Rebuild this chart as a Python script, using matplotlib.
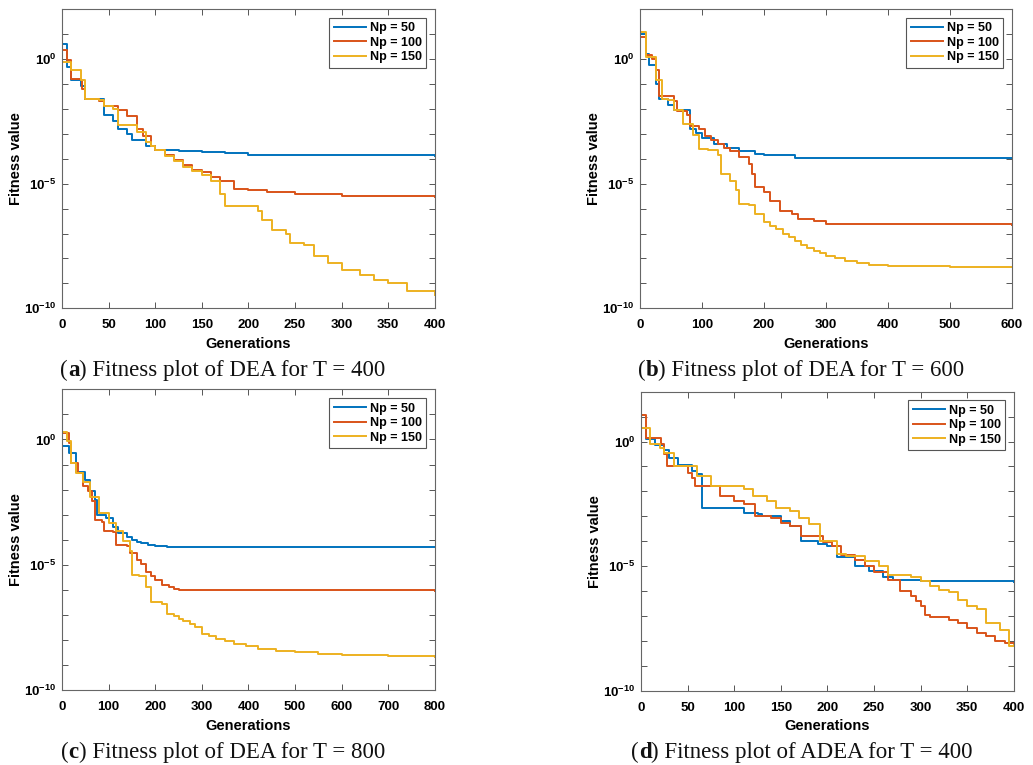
import matplotlib
matplotlib.use("Agg")
import matplotlib.pyplot as plt
import numpy as np
from matplotlib.ticker import FixedLocator, FuncFormatter, NullLocator
from matplotlib.offsetbox import TextArea, HPacker, AnchoredOffsetbox

# ---- data: generation index and log10(best fitness) ----
# (a) DEA, T = 400
A_X_50 = [0, 5, 10, 20, 25, 40, 45, 55, 60, 70, 75, 90, 100, 125, 150, 175, 200, 250, 400]
A_Y_50 = [0.6, -0.3, -0.85, -1.1, -1.6, -1.6, -2.25, -2.5, -2.8, -3.0, -3.25, -3.5,
          -3.65, -3.69, -3.72, -3.78, -3.83, -3.87, -3.88]
A_X_100 = [0, 5, 10, 20, 22, 25, 40, 45, 60, 70, 80, 87, 95, 100, 110, 120, 130, 140, 150,
           160, 170, 185, 200, 220, 250, 300, 400]
A_Y_100 = [0.35, -0.05, -0.8, -0.85, -1.2, -1.6, -1.7, -1.9, -2.05, -2.3, -2.8, -3.1,
           -3.5, -3.65, -3.85, -4.05, -4.25, -4.45, -4.55, -4.72, -4.9, -5.2, -5.25, -5.35,
           -5.41, -5.48, -5.55]
A_X_150 = [0, 10, 20, 25, 40, 45, 55, 60, 80, 90, 95, 100, 110, 120, 130, 140, 150, 160,
           170, 175, 200, 210, 215, 225, 240, 245, 260, 270, 285, 300, 320, 335, 350, 370, 400]
A_Y_150 = [-0.12, -0.45, -0.85, -1.6, -1.65, -1.9, -2.0, -2.65, -2.92, -3.32, -3.5, -3.65,
           -3.9, -4.1, -4.35, -4.5, -4.65, -4.9, -5.4, -5.9, -5.9, -6.1, -6.45, -6.85,
           -7.0, -7.4, -7.45, -7.9, -8.2, -8.45, -8.65, -8.85, -9.0, -9.3, -9.45]

# (b) DEA, T = 600
B_X_50 = [0, 10, 15, 25, 30, 45, 55, 80, 90, 100, 120, 140, 160, 185, 200, 250, 300, 600]
B_Y_50 = [1.0, 0.2, -0.25, -1.0, -1.6, -1.85, -2.05, -2.8, -2.95, -3.15, -3.4, -3.55,
          -3.7, -3.8, -3.87, -3.96, -3.97, -3.98]
B_X_100 = [0, 10, 20, 25, 30, 45, 55, 60, 75, 80, 95, 105, 115, 125, 135, 145, 160, 175,
           180, 185, 200, 210, 225, 245, 255, 280, 300, 400, 600]
B_Y_100 = [0.9, 0.15, 0.0, -0.45, -1.5, -1.5, -1.7, -2.1, -2.25, -2.7, -2.8, -3.1, -3.25,
           -3.4, -3.55, -3.7, -3.95, -4.2, -4.6, -5.15, -5.35, -5.7, -6.1, -6.2, -6.4,
           -6.5, -6.6, -6.63, -6.65]
B_X_150 = [0, 10, 25, 35, 45, 55, 70, 85, 95, 110, 125, 130, 145, 155, 160, 175, 185,
           200, 210, 220, 230, 240, 250, 260, 270, 280, 290, 300, 315, 330, 350, 370, 400,
           500, 600]
B_Y_150 = [1.1, 0.1, -0.85, -1.6, -1.65, -2.05, -2.6, -3.05, -3.6, -3.65, -3.85, -4.6,
           -4.9, -5.25, -5.8, -5.85, -6.2, -6.55, -6.7, -6.8, -7.0, -7.15, -7.3, -7.45,
           -7.6, -7.7, -7.8, -7.9, -8.0, -8.1, -8.2, -8.25, -8.3, -8.33, -8.35]

# (c) DEA, T = 800
C_X_50 = [0, 15, 25, 30, 50, 60, 70, 75, 95, 110, 120, 140, 150, 160, 170, 185, 200, 225,
          250, 800]
C_Y_50 = [-0.25, -0.55, -0.55, -1.3, -1.6, -2.05, -2.4, -3.0, -3.15, -3.5, -3.75, -3.9,
          -4.0, -4.08, -4.15, -4.22, -4.27, -4.29, -4.3, -4.3]
C_X_100 = [0, 15, 20, 35, 45, 55, 65, 70, 85, 90, 110, 115, 140, 145, 160, 170, 180, 190,
           200, 215, 230, 240, 250, 300, 800]
C_Y_100 = [0.25, -0.15, -0.95, -1.35, -1.85, -2.05, -2.45, -3.2, -3.3, -3.65, -3.7, -4.2,
           -4.25, -4.55, -4.8, -4.95, -5.3, -5.45, -5.6, -5.8, -5.9, -5.97, -6.0, -6.02,
           -6.05]
C_X_150 = [0, 10, 20, 30, 45, 60, 80, 100, 115, 130, 145, 150, 165, 180, 190, 215, 225,
           240, 250, 260, 275, 285, 300, 315, 330, 350, 370, 395, 420, 460, 500, 550, 600,
           700, 800]
C_Y_150 = [0.3, -0.05, -0.95, -1.35, -1.7, -2.3, -2.95, -3.35, -3.65, -4.05, -4.45, -5.4,
           -5.45, -5.9, -6.5, -6.55, -6.95, -7.05, -7.15, -7.25, -7.35, -7.5, -7.75, -7.85,
           -7.95, -8.05, -8.15, -8.25, -8.35, -8.43, -8.5, -8.55, -8.6, -8.65, -8.7]

# (d) ADEA, T = 400
D_X_50 = [0, 5, 15, 25, 30, 40, 55, 60, 65, 100, 110, 125, 130, 150, 160, 172, 190, 200,
          210, 230, 245, 260, 270, 300, 400]
D_Y_50 = [0.55, 0.1, -0.15, -0.35, -0.65, -0.95, -1.2, -1.3, -2.65, -2.65, -2.85, -2.9,
          -3.0, -3.2, -3.4, -4.0, -4.1, -4.2, -4.65, -5.0, -5.2, -5.45, -5.55, -5.6, -5.65]
D_X_100 = [0, 5, 22, 25, 28, 50, 55, 58, 85, 100, 110, 122, 140, 150, 160, 172, 195, 205,
           215, 230, 240, 250, 265, 278, 290, 295, 300, 305, 310, 330, 340, 350, 360, 370,
           380, 390, 400]
D_Y_100 = [1.05, 0.15, -0.1, -0.5, -1.0, -1.25, -1.45, -1.8, -2.2, -2.4, -2.5, -3.0,
           -3.05, -3.25, -3.4, -3.8, -4.05, -4.2, -4.55, -4.75, -5.0, -5.25, -5.55, -6.0,
           -6.2, -6.4, -6.6, -6.95, -7.05, -7.15, -7.3, -7.5, -7.7, -7.8, -8.0, -8.1, -8.1]
D_X_150 = [0, 10, 20, 25, 35, 55, 60, 75, 100, 110, 120, 135, 145, 160, 170, 180, 192,
           210, 220, 240, 255, 265, 290, 300, 310, 320, 330, 340, 350, 360, 370, 385, 395,
           400]
D_Y_150 = [0.55, -0.1, -0.25, -0.45, -1.0, -1.0, -1.4, -1.8, -1.8, -1.9, -2.2, -2.4,
           -2.65, -2.8, -3.05, -3.3, -4.0, -4.5, -4.6, -4.8, -5.0, -5.35, -5.45, -5.6,
           -5.8, -5.95, -6.05, -6.35, -6.6, -6.7, -7.3, -7.55, -8.2, -8.15]

LABELS = ["Np = 50", "Np = 100", "Np = 150"]
COLORS = ["#0072BD", "#D95319", "#EDB120"]

PANELS = [
    dict(series=[(A_X_50, A_Y_50), (A_X_100, A_Y_100), (A_X_150, A_Y_150)],
         xmax=400, xstep=50, letter="a", text=") Fitness plot of DEA for T = 400",
         rect=[0.060, 0.597, 0.361, 0.391], cap=(223, 370)),
    dict(series=[(B_X_50, B_Y_50), (B_X_100, B_Y_100), (B_X_150, B_Y_150)],
         xmax=600, xstep=100, letter="b", text=") Fitness plot of DEA for T = 600",
         rect=[0.6196, 0.597, 0.360, 0.391], cap=(801, 370)),
    dict(series=[(C_X_50, C_Y_50), (C_X_100, C_Y_100), (C_X_150, C_Y_150)],
         xmax=800, xstep=100, letter="c", text=") Fitness plot of DEA for T = 800",
         rect=[0.060, 0.098, 0.361, 0.393], cap=(223, 752)),
    dict(series=[(D_X_50, D_Y_50), (D_X_100, D_Y_100), (D_X_150, D_Y_150)],
         xmax=400, xstep=50, letter="d", text=") Fitness plot of ADEA for T = 400",
         rect=[0.6205, 0.097, 0.361, 0.391], cap=(802, 752)),
]

plt.rcParams["font.family"] = ["Liberation Sans", "DejaVu Sans"]
plt.rcParams["mathtext.fontset"] = "custom"
plt.rcParams["mathtext.rm"] = "Liberation Sans:bold"
plt.rcParams["mathtext.bf"] = "Liberation Sans:bold"

W, H = 1033, 765
fig = plt.figure(figsize=(W / 100, H / 100), dpi=100)
fig.patch.set_facecolor("white")


def ytick_fmt(v, pos):
    k = int(round(np.log10(v)))
    if k in (0, -5, -10):
        return r"$\mathbf{10^{%d}}$" % k
    return ""


for p in PANELS:
    ax = fig.add_axes(p["rect"])
    for (xs, ys), col, lab in zip(p["series"], COLORS, LABELS):
        ax.plot(xs, 10.0 ** np.array(ys), color=col, lw=1.4,
                drawstyle="steps-post", label=lab)

    ax.set_yscale("log")
    ax.set_xlim(0, p["xmax"])
    ax.set_ylim(1e-10, 1e2)
    ax.xaxis.set_major_locator(FixedLocator(np.arange(0, p["xmax"] + 1, p["xstep"])))
    ax.yaxis.set_major_locator(FixedLocator([10.0 ** k for k in range(-10, 3)]))
    ax.yaxis.set_minor_locator(NullLocator())
    ax.yaxis.set_major_formatter(FuncFormatter(ytick_fmt))
    ax.tick_params(direction="in", top=True, right=True, length=4, width=0.7,
                   color="#555555", labelsize=9.5, pad=4)
    ax.tick_params(axis="x", pad=8)
    for lbl in ax.get_xticklabels():
        lbl.set_fontweight("bold")
    for sp in ax.spines.values():
        sp.set_color("#666666")
        sp.set_linewidth(0.8)

    ax.set_xlabel("Generations", fontsize=10.5, fontweight="bold", labelpad=4)
    ax.set_ylabel("Fitness value", fontsize=10.5, fontweight="bold", labelpad=1)

    leg = ax.legend(loc="upper right", fancybox=False, framealpha=1,
                    handlelength=2.6, handletextpad=0.3, labelspacing=0.2,
                    borderpad=0.35, borderaxespad=0.7, prop=dict(weight="bold", size=9))
    leg.get_frame().set_edgecolor("#555555")
    leg.get_frame().set_linewidth(0.8)

    # caption below each panel, panel letter in bold
    tp = dict(fontfamily="Liberation Serif", fontsize=16.5, color="#111111")
    parts = [TextArea("(", textprops=tp),
             TextArea(p["letter"], textprops=dict(tp, fontweight="bold")),
             TextArea(p["text"], textprops=tp)]
    box = AnchoredOffsetbox(loc="center", child=HPacker(children=parts, sep=0, pad=0,
                                                        align="baseline"),
                            bbox_to_anchor=(p["cap"][0] / W, 1 - p["cap"][1] / H),
                            bbox_transform=fig.transFigure, frameon=False,
                            pad=0, borderpad=0)
    fig.add_artist(box)

fig.savefig("out.png", dpi=100)
